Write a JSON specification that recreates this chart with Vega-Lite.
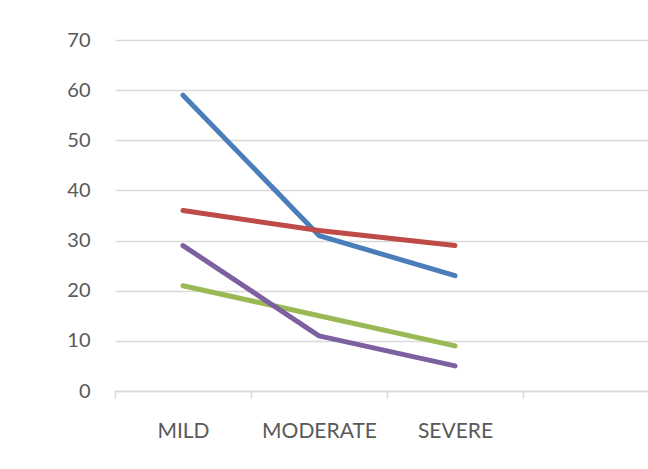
{
  "$schema": "https://vega.github.io/schema/vega-lite/v6.json",
  "autosize": {"type": "none"},
  "padding": {"left": 115, "top": 40, "right": 0, "bottom": 78},
  "width": 544,
  "height": 351,
  "background": "white",
  "config": {"view": {"stroke": null}},
  "data": {"values": [
    {"severity": "MILD", "series": "Series1", "value": 59},
    {"severity": "MODERATE", "series": "Series1", "value": 31},
    {"severity": "SEVERE", "series": "Series1", "value": 23},
    {"severity": "MILD", "series": "Series2", "value": 36},
    {"severity": "MODERATE", "series": "Series2", "value": 32},
    {"severity": "SEVERE", "series": "Series2", "value": 29},
    {"severity": "MILD", "series": "Series3", "value": 21},
    {"severity": "MODERATE", "series": "Series3", "value": 15},
    {"severity": "SEVERE", "series": "Series3", "value": 9},
    {"severity": "MILD", "series": "Series4", "value": 29},
    {"severity": "MODERATE", "series": "Series4", "value": 11},
    {"severity": "SEVERE", "series": "Series4", "value": 5}
  ]},
  "mark": {"type": "line", "strokeWidth": 5, "strokeCap": "round", "strokeJoin": "round"},
  "encoding": {
    "x": {
      "field": "severity", "type": "nominal",
      "scale": {"type": "band", "domain": ["MILD", "MODERATE", "SEVERE", " "], "paddingInner": 0, "paddingOuter": 0},
      "axis": {
        "title": null, "labelAngle": 0, "tickBand": "extent", "grid": false,
        "domainColor": "#d9d9d9", "domainWidth": 1.5, "tickColor": "#d9d9d9", "tickWidth": 1.5, "tickSize": 7,
        "labelFont": "Lato", "labelFontSize": 21, "labelColor": "#595959", "labelPadding": 22
      }
    },
    "y": {
      "field": "value", "type": "quantitative",
      "scale": {"domain": [0, 70], "nice": false, "zero": true},
      "axis": {
        "title": null, "values": [0, 10, 20, 30, 40, 50, 60, 70], "domain": false, "ticks": false,
        "gridColor": "#d9d9d9", "gridWidth": 1.5,
        "labelFont": "Lato", "labelFontSize": 20, "labelColor": "#595959", "labelPadding": 25
      }
    },
    "color": {
      "field": "series", "type": "nominal", "legend": null,
      "scale": {"domain": ["Series1", "Series2", "Series3", "Series4"], "range": ["#4a7ebb", "#be4b48", "#98b954", "#7d60a0"]}
    }
  }
}
